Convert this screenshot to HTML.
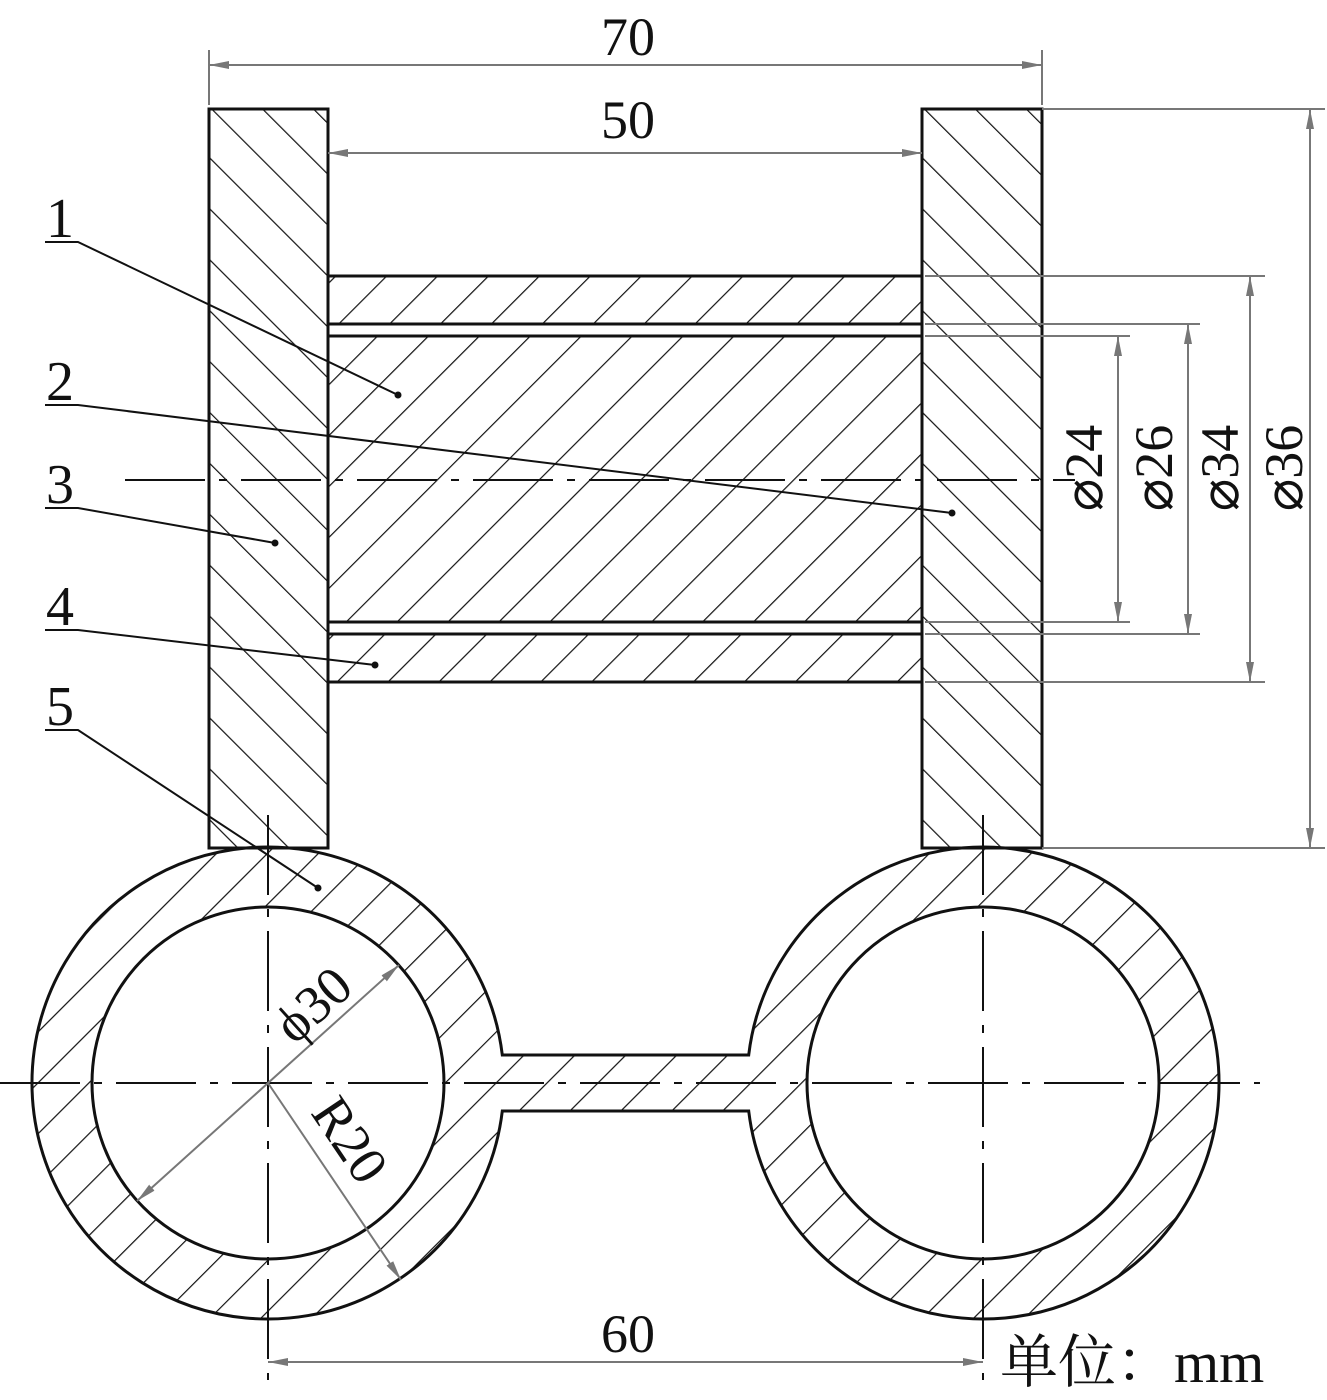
<!DOCTYPE html>
<html><head><meta charset="utf-8"><style>
html,body{margin:0;padding:0;background:#fff;}
svg{display:block;}
text{font-family:"Liberation Serif","Noto Serif CJK SC",serif;fill:#111;}
</style></head><body>
<svg width="1327" height="1400" viewBox="0 0 1327 1400" xmlns="http://www.w3.org/2000/svg">
<defs>
<pattern id="hs" patternUnits="userSpaceOnUse" width="36" height="36" patternTransform="rotate(45)">
<line x1="0" y1="0" x2="0" y2="36" stroke="#111" stroke-width="2.4"/></pattern>
<pattern id="hb" patternUnits="userSpaceOnUse" width="36" height="36" patternTransform="rotate(-45)">
<line x1="0" y1="0" x2="0" y2="36" stroke="#111" stroke-width="2.4"/></pattern>
<marker id="a" viewBox="0 0 20 10" refX="20" refY="5" markerWidth="20" markerHeight="10" markerUnits="userSpaceOnUse" orient="auto-start-reverse">
<path d="M0,1 L20,5 L0,9 Z" fill="#777"/></marker>
</defs>

<rect x="209" y="109" width="119" height="739" fill="url(#hb)" stroke="#111" stroke-width="3"/>
<rect x="922" y="109" width="120" height="739" fill="url(#hb)" stroke="#111" stroke-width="3"/>

<rect x="328" y="276" width="594" height="48" fill="url(#hs)" stroke="#111" stroke-width="3"/>
<rect x="328" y="324" width="594" height="12" fill="#fff" stroke="#111" stroke-width="3"/>
<rect x="328" y="336" width="594" height="286" fill="url(#hs)" stroke="#111" stroke-width="3"/>
<rect x="328" y="622" width="594" height="12" fill="#fff" stroke="#111" stroke-width="3"/>
<rect x="328" y="634" width="594" height="48" fill="url(#hs)" stroke="#111" stroke-width="3"/>

<path d="M502.3,1055 L748.7,1055 A236,236 0 1 1 748.7,1111 L502.3,1111 A236,236 0 1 1 502.3,1055 Z M444,1083 A176,176 0 1 0 92,1083 A176,176 0 1 0 444,1083 Z M1159,1083 A176,176 0 1 0 807,1083 A176,176 0 1 0 1159,1083 Z" fill="url(#hs)" fill-rule="evenodd" stroke="#111" stroke-width="3"/>

<g stroke="#111" stroke-width="2" stroke-dasharray="80,14,8,14" fill="none">
<line x1="125" y1="480" x2="1075" y2="480"/>
<line x1="0" y1="1083" x2="1260" y2="1083"/>
<line x1="268" y1="815" x2="268" y2="1380"/>
<line x1="983" y1="815" x2="983" y2="1380"/>
</g>

<g stroke="#777" stroke-width="2" fill="none">
<line x1="209" y1="50" x2="209" y2="105"/>
<line x1="1042" y1="50" x2="1042" y2="105"/>
<line x1="209" y1="65" x2="1042" y2="65" marker-start="url(#a)" marker-end="url(#a)"/>
<line x1="328" y1="153" x2="922" y2="153" marker-start="url(#a)" marker-end="url(#a)"/>
<line x1="1042" y1="109" x2="1325" y2="109"/>
<line x1="1042" y1="848" x2="1325" y2="848"/>
<line x1="1310" y1="109" x2="1310" y2="848" marker-start="url(#a)" marker-end="url(#a)"/>
<line x1="925" y1="276" x2="1265" y2="276"/>
<line x1="925" y1="682" x2="1265" y2="682"/>
<line x1="1250" y1="276" x2="1250" y2="682" marker-start="url(#a)" marker-end="url(#a)"/>
<line x1="925" y1="324" x2="1200" y2="324"/>
<line x1="925" y1="634" x2="1200" y2="634"/>
<line x1="1188" y1="324" x2="1188" y2="634" marker-start="url(#a)" marker-end="url(#a)"/>
<line x1="925" y1="336" x2="1130" y2="336"/>
<line x1="925" y1="622" x2="1130" y2="622"/>
<line x1="1118" y1="336" x2="1118" y2="622" marker-start="url(#a)" marker-end="url(#a)"/>
<line x1="268" y1="1362" x2="983" y2="1362" marker-start="url(#a)" marker-end="url(#a)"/>
<line x1="137" y1="1201" x2="399" y2="965" marker-start="url(#a)" marker-end="url(#a)"/>
<line x1="268" y1="1083" x2="401" y2="1280" marker-end="url(#a)"/>
</g>

<g font-size="54" text-anchor="middle">
<text x="628" y="55">70</text>
<text x="628" y="138">50</text>
<text x="628" y="1352">60</text>
<text transform="translate(1102,468) rotate(-90)">⌀24</text>
<text transform="translate(1172,468) rotate(-90)">⌀26</text>
<text transform="translate(1238,468) rotate(-90)">⌀34</text>
<text transform="translate(1302,468) rotate(-90)">⌀36</text>
<text transform="translate(325,1018) rotate(-42)">ϕ30</text>
<text transform="translate(335,1150) rotate(56)">R20</text>
</g>
<g font-size="56" text-anchor="middle">
<text x="60" y="237">1</text>
<text x="60" y="400">2</text>
<text x="60" y="503">3</text>
<text x="60" y="625">4</text>
<text x="60" y="725">5</text>
</g>
<text x="1000" y="1382" font-size="58">单位：mm</text>

<g stroke="#111" stroke-width="2" fill="none">
<polyline points="45,242 78,242 398,395"/>
<polyline points="45,405 78,405 952,513"/>
<polyline points="45,508 78,508 275,543"/>
<polyline points="45,630 78,630 375,665"/>
<polyline points="45,730 78,730 318,888"/>
</g>
<g fill="#111">
<circle cx="398" cy="395" r="3.5"/><circle cx="952" cy="513" r="3.5"/>
<circle cx="275" cy="543" r="3.5"/><circle cx="375" cy="665" r="3.5"/>
<circle cx="318" cy="888" r="3.5"/>
</g>
</svg>
</body></html>
